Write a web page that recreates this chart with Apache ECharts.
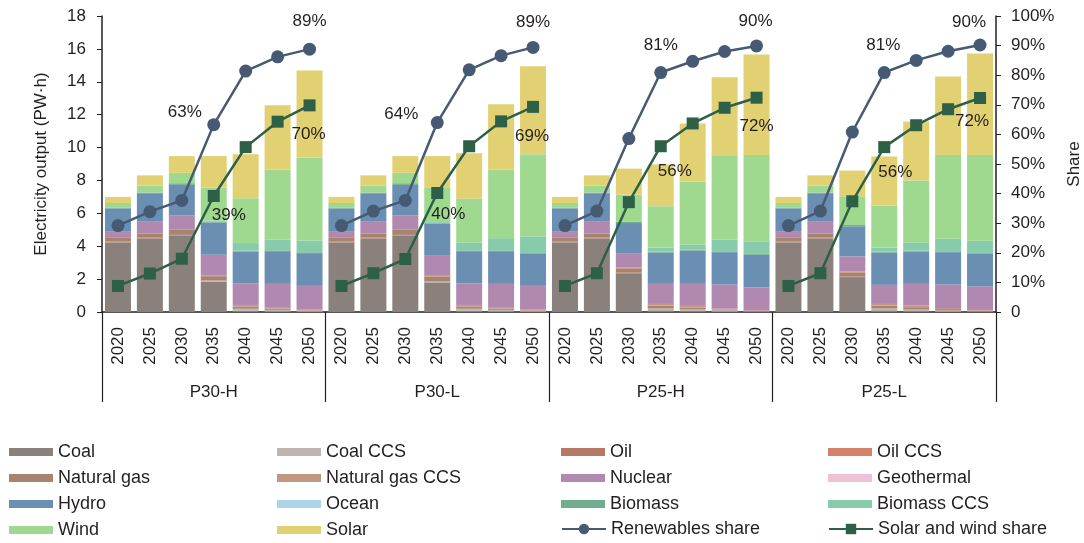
<!DOCTYPE html>
<html>
<head>
<meta charset="utf-8">
<script src="https://cdn.jsdelivr.net/npm/echarts@6.0.0/dist/echarts.min.js"></script>
<style>
  html, body { margin: 0; padding: 0; background: #fff; }
  #chart { width: 1084px; height: 543px; }
</style>
</head>
<body>
<div id="chart"></div>
<script>
// scenarios x years (7 bars per scenario)
const scenarios = ['P30-H', 'P30-L', 'P25-H', 'P25-L'];
const years = ['2020', '2025', '2030', '2035', '2040', '2045', '2050'];

// electricity output by source, PW·h (P30-H, P30-L, P25-H, P25-L)
const coal = [4.23,4.47,4.64,1.85,0.08,0.03,0.02, 4.23,4.47,4.64,1.80,0.08,0.03,0.02, 4.23,4.47,2.36,0.10,0.05,0.02,0.01, 4.23,4.47,2.12,0.10,0.05,0.02,0.01];
const coalCCS = [0,0,0,0.06,0.12,0.10,0.05, 0,0,0,0.05,0.12,0.10,0.05, 0,0,0,0.10,0.10,0.07,0.03, 0,0,0,0.10,0.10,0.07,0.03];
const oil = [0.05,0.05,0.05,0.03,0,0,0, 0.05,0.05,0.05,0.03,0,0,0, 0.05,0.05,0.04,0.02,0,0,0, 0.05,0.05,0.04,0.02,0,0,0];
const oilCCS = [0,0,0,0,0,0,0, 0,0,0,0,0,0,0, 0,0,0,0,0,0,0, 0,0,0,0,0,0,0];
const gas = [0.23,0.26,0.31,0.24,0.13,0.08,0.03, 0.23,0.26,0.31,0.26,0.13,0.08,0.03, 0.23,0.26,0.22,0.17,0.12,0.05,0.02, 0.23,0.26,0.22,0.17,0.14,0.09,0.04];
const gasCCS = [0,0,0,0.06,0.10,0.09,0.04, 0,0,0,0.06,0.10,0.09,0.04, 0,0,0.08,0.10,0.10,0.06,0.04, 0,0,0.08,0.10,0.10,0.06,0.04];
const nuclear = [0.41,0.71,0.86,1.24,1.32,1.41,1.45, 0.41,0.71,0.86,1.22,1.30,1.41,1.45, 0.41,0.71,0.88,1.22,1.34,1.47,1.40, 0.41,0.71,0.92,1.16,1.32,1.43,1.43];
const geothermal = [0,0,0,0,0,0,0, 0,0,0,0,0,0,0, 0,0,0,0,0,0,0, 0,0,0,0,0,0,0];
const hydro = [1.38,1.69,1.87,1.97,1.93,1.99,1.99, 1.38,1.69,1.87,1.95,1.97,1.99,1.95, 1.38,1.69,1.83,1.91,2.03,1.97,1.98, 1.38,1.69,1.83,1.97,1.97,1.97,1.99];
const ocean = [0,0,0,0,0,0,0, 0,0,0,0,0,0,0, 0,0,0,0,0,0,0, 0,0,0,0,0,0,0];
const biomass = [0.05,0.08,0.10,0.05,0.05,0.05,0.05, 0.05,0.08,0.10,0.05,0.05,0.05,0.05, 0.05,0.08,0.08,0.05,0.05,0.05,0.05, 0.05,0.08,0.08,0.05,0.05,0.05,0.05];
const biomassCCS = [0,0,0,0.05,0.46,0.66,0.72, 0,0,0,0.05,0.48,0.74,1.01, 0,0,0,0.23,0.30,0.70,0.76, 0,0,0,0.23,0.50,0.76,0.74];
const wind = [0.28,0.42,0.63,2.02,2.72,4.25,5.05, 0.28,0.42,0.63,2.08,2.66,4.17,5.00, 0.28,0.42,1.65,2.53,3.84,5.09,5.25, 0.28,0.42,1.75,2.57,3.76,5.09,5.21];
const solar = [0.37,0.63,1.02,1.91,2.69,3.91,5.28, 0.37,0.63,1.02,1.93,2.77,3.97,5.35, 0.37,0.63,1.58,2.54,3.54,4.80,6.12, 0.37,0.63,1.56,2.98,3.60,4.78,6.18];

// shares, %
const renewShare = [29.2,33.9,37.7,63.3,81.4,86.2,88.8, 29.2,34.1,37.7,64.0,81.8,86.6,89.4, 29.2,34.1,58.6,80.9,84.7,88.0,89.9, 29.2,34.1,60.8,80.9,85.0,88.1,90.2];
const swShare = [8.8,13.0,18.0,39.2,55.7,64.3,69.8, 8.8,13.1,17.9,40.2,56.0,64.4,69.3, 8.8,13.1,37.1,56.0,63.7,69.0,72.4, 8.8,13.1,37.4,55.7,63.1,68.5,72.3];

const categories = scenarios.flatMap(() => years);

const sources = [
  ['Coal', coal, '#8a817d'],
  ['Coal CCS', coalCCS, '#bfb4b1'],
  ['Oil', oil, '#b57966'],
  ['Oil CCS', oilCCS, '#d5826a'],
  ['Natural gas', gas, '#a7846f'],
  ['Natural gas CCS', gasCCS, '#c39780'],
  ['Nuclear', nuclear, '#b188b0'],
  ['Geothermal', geothermal, '#efc1d6'],
  ['Hydro', hydro, '#6a8fb3'],
  ['Ocean', ocean, '#acd4e6'],
  ['Biomass', biomass, '#70ad8e'],
  ['Biomass CCS', biomassCCS, '#86ccaa'],
  ['Wind', wind, '#9fd98f'],
  ['Solar', solar, '#e2d172']
];

// where the % labels sit, relative to the marker centre
const renewLabels = {3: [-29, -12], 6: [0, -28], 10: [-36, -8], 13: [0, -25], 17: [0, -27], 20: [-1, -25], 24: [-1, -27], 27: [-11, -23]};
const swLabels = {3: [15, 19], 6: [-1, 29], 10: [11, 21], 13: [-1, 29], 17: [14, 25], 20: [0, 29], 24: [11, 25], 27: [-8, 23]};

const textColor = '#231f20';
const font = 'Liberation Sans, Arial, sans-serif';

// one line piece per scenario, so the lines break between groups
function scenarioPiece(values, spots, s) {
  return values.map((v, i) => {
    if (Math.floor(i / years.length) !== s) return '-';
    if (!spots[i]) return v;
    return {
      value: v,
      label: {
        show: true,
        position: 'inside',
        offset: spots[i],
        formatter: Math.round(v) + '%',
        color: textColor,
        fontSize: 17,
        fontFamily: font,
        textBorderWidth: 0
      }
    };
  });
}

const chart = echarts.init(document.getElementById('chart'), null, { renderer: 'canvas' });

const series = sources.map(([name, vals, color]) => ({
  name: name,
  type: 'bar',
  stack: 'power',
  barWidth: 26,
  itemStyle: { color: color },
  data: vals
}));

scenarios.forEach((sc, s) => {
  series.push({
    name: 'Renewables share',
    type: 'line',
    yAxisIndex: 1,
    symbol: 'circle',
    symbolSize: 13,
    z: 5,
    color: '#465b73',
    lineStyle: { width: 2.5, color: '#465b73' },
    itemStyle: { color: '#465b73' },
    data: scenarioPiece(renewShare, renewLabels, s)
  });
  series.push({
    name: 'Solar and wind share',
    type: 'line',
    yAxisIndex: 1,
    symbol: 'rect',
    symbolSize: 12,
    z: 5,
    color: '#2e5f47',
    lineStyle: { width: 2.5, color: '#2e5f47' },
    itemStyle: { color: '#2e5f47' },
    data: scenarioPiece(swShare, swLabels, s)
  });
});

const legendBase = {
  orient: 'vertical',
  itemWidth: 44,
  itemHeight: 8,
  itemGap: 8,
  padding: 0,
  selectedMode: false,
  textStyle: { fontSize: 18, lineHeight: 18, color: textColor, fontFamily: font }
};
const rectItems = names => names.map(n => ({ name: n, icon: 'rect' }));

const option = {
  animation: false,
  textStyle: { fontFamily: font },
  grid: { left: 102, right: 88, top: 16, bottom: 231, outerBoundsMode: 'none' },
  legend: [
    Object.assign({}, legendBase, { left: 9, top: 443, data: rectItems(['Coal', 'Natural gas', 'Hydro', 'Wind']) }),
    Object.assign({}, legendBase, { left: 277, top: 443, data: rectItems(['Coal CCS', 'Natural gas CCS', 'Ocean', 'Solar']) }),
    Object.assign({}, legendBase, { left: 561, top: 443, data: rectItems(['Oil', 'Nuclear', 'Biomass']) }),
    Object.assign({}, legendBase, { left: 828, top: 443, data: rectItems(['Oil CCS', 'Geothermal', 'Biomass CCS']) }),
    Object.assign({}, legendBase, { left: 561, top: 520, itemHeight: 13, data: ['Renewables share'] }),
    Object.assign({}, legendBase, { left: 828, top: 520, itemHeight: 13, data: ['Solar and wind share'] })
  ],
  xAxis: [
    {
      type: 'category',
      data: categories,
      axisLine: { lineStyle: { color: textColor, width: 1.5 } },
      axisTick: { show: false },
      axisLabel: { interval: 0, rotate: 90, margin: 15, fontSize: 17, color: textColor, fontFamily: font }
    },
    {
      type: 'category',
      data: scenarios,
      position: 'bottom',
      axisLine: { show: false },
      axisTick: { show: true, length: 90, lineStyle: { color: textColor, width: 1.2 } },
      axisLabel: { interval: 0, margin: 72, fontSize: 17, color: textColor, fontFamily: font }
    }
  ],
  yAxis: [
    {
      type: 'value',
      min: 0,
      max: 18,
      interval: 2,
      name: 'Electricity output (PW·h)',
      nameLocation: 'middle',
      nameGap: 52,
      nameTextStyle: { fontSize: 17, color: textColor, fontFamily: font },
      axisLine: { show: true, lineStyle: { color: textColor, width: 1.5 } },
      axisTick: { show: true, length: 5, lineStyle: { color: textColor } },
      axisLabel: { fontSize: 17, margin: 16, color: textColor, fontFamily: font },
      splitLine: { show: false }
    },
    {
      type: 'value',
      min: 0,
      max: 100,
      interval: 10,
      name: 'Share',
      nameLocation: 'middle',
      nameGap: 70,
      nameTextStyle: { fontSize: 17, color: textColor, fontFamily: font },
      axisLine: { show: true, lineStyle: { color: textColor, width: 1.5 } },
      axisTick: { show: true, length: 5, lineStyle: { color: textColor } },
      axisLabel: {
        fontSize: 17, margin: 15, color: textColor, fontFamily: font,
        formatter: v => (v === 0 ? '0' : v + '%')
      },
      splitLine: { show: false }
    }
  ],
  series: series
};

chart.setOption(option);
</script>
</body>
</html>
